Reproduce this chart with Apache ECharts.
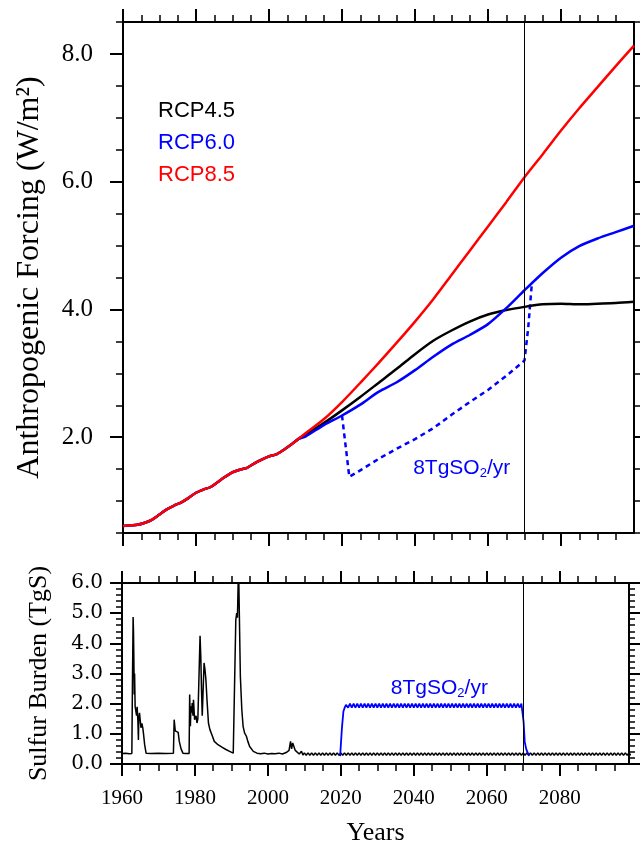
<!DOCTYPE html>
<html><head><meta charset="utf-8">
<script src="https://cdn.jsdelivr.net/npm/echarts@6/dist/echarts.min.js"></script>
<style>html,body{margin:0;padding:0;background:#fff}#c{width:640px;height:850px}</style>
</head><body><div id="c"></div>
<script>
// ---------- data ----------
const histYears   = [1960,1962,1964,1966,1968,1970,1972,1974,1976,1978,1980,1982,1984,1986,1988,1990,1992,1994,1996,1998,2000,2002,2004,2006,2008];
const histForcing = [0.61,0.62,0.63,0.66,0.71,0.79,0.87,0.93,0.98,1.05,1.13,1.18,1.22,1.30,1.38,1.45,1.49,1.52,1.59,1.65,1.70,1.73,1.80,1.88,1.97];
const futureYears = [2010,2015,2020,2025,2030,2035,2040,2045,2050,2055,2060,2065,2070,2075,2080,2085,2090,2095,2100];
const rcp45 = [2.04,2.22,2.42,2.63,2.85,3.07,3.30,3.51,3.67,3.81,3.92,3.99,4.04,4.08,4.09,4.08,4.09,4.10,4.12];
const rcp60 = [2.01,2.19,2.34,2.51,2.71,2.86,3.05,3.26,3.45,3.60,3.77,4.02,4.30,4.57,4.81,4.99,5.11,5.21,5.31];
const rcp85 = [2.06,2.28,2.55,2.85,3.16,3.48,3.81,4.16,4.54,4.92,5.30,5.68,6.07,6.43,6.80,7.15,7.48,7.81,8.13];
const geoYears   = [2020,2021,2022,2025,2030,2035,2040,2045,2050,2055,2060,2065,2070,2071,2072];
const geoForcing = [2.34,1.86,1.38,1.48,1.66,1.82,1.97,2.14,2.35,2.55,2.74,2.96,3.20,3.70,4.40];
const forcingTicks = [2,4,6,8];
const forcingMinorTicks = [0.5,1,1.5,2.5,3,3.5,4.5,5,5.5,6.5,7,7.5,8.5];
const yearTicks = [1960,1980,2000,2020,2040,2060,2080];
const yearMinorTicks = [1965,1970,1975,1985,1990,1995,2005,2010,2015,2025,2030,2035,2045,2050,2055,2065,2070,2075,2085,2090,2095];

// sulfur burden 1960-2010 (year, TgS)
const burdenEvents = [
 [1960.0,0.35],[1961.0,0.36],[1962.0,0.34],[1962.7,0.35],
 [1962.85,2.5],[1963.05,4.87],[1963.15,4.40],[1963.25,3.5],[1963.35,2.3],[1963.45,3.0],[1963.6,1.9],[1963.8,1.75],
 [1964.0,1.6],[1964.15,1.9],[1964.35,1.45],[1964.5,0.8],[1964.6,1.5],[1964.8,1.7],[1965.0,1.45],[1965.2,1.2],
 [1965.45,1.35],[1965.7,1.2],[1965.9,1.0],[1966.2,0.65],[1966.6,0.36],
 [1968.0,0.35],[1970.0,0.36],[1972.0,0.35],[1974.1,0.36],
 [1974.3,1.47],[1974.6,1.1],[1975.0,1.13],[1975.4,1.05],[1975.7,0.75],[1976.2,0.5],[1976.7,0.36],[1977.5,0.35],[1978.4,0.35],
 [1978.55,2.30],[1978.75,1.25],[1978.9,1.91],[1979.1,1.7],[1979.25,2.02],[1979.45,1.6],[1979.6,2.13],[1979.9,1.47],
 [1980.3,1.6],[1980.55,1.36],[1980.8,1.5],[1981.2,1.5],
 [1981.4,4.25],[1981.6,3.57],[1981.8,2.46],[1982.0,1.6],[1982.3,1.6],[1982.5,3.35],[1982.75,3.13],[1983.0,2.8],
 [1983.3,2.13],[1983.7,1.36],[1984.1,1.14],[1984.8,0.92],[1985.3,0.75],[1985.8,0.70],[1986.3,0.64],[1986.8,0.60],
 [1987.5,0.55],[1988.5,0.48],[1989.5,0.42],[1990.5,0.36],[1991.0,0.35],
 [1991.2,4.78],[1991.45,5.0],[1991.65,4.85],[1991.95,6.6],[1992.45,2.9],[1992.6,2.85],[1992.85,1.8],[1993.2,1.25],
 [1993.6,1.03],[1994.1,0.92],[1994.5,0.75],[1995.0,0.58],[1996.0,0.42],[1997.0,0.36],[1998.0,0.34],[1999.0,0.36],
 [2000.0,0.33],[2001.0,0.35],[2002.0,0.34],[2003.0,0.36],[2004.0,0.33],[2005.0,0.38],
 [2005.8,0.45],[2006.2,0.75],[2006.5,0.5],[2006.8,0.7],[2007.2,0.72],[2007.5,0.45],[2008.0,0.40],[2008.6,0.33],
 [2009.2,0.42],[2009.6,0.30]
];
// background burden 2010.0-2099.5, every half year
const burdenTailStart = 2010;
const burdenTail = [
 0.37,0.29,0.37,0.29,0.37,0.29,0.37,0.29,0.37,0.29,0.37,0.29,0.37,0.29,0.37,0.29,0.37,0.29,0.37,0.29,
 0.37,0.29,0.37,0.29,0.37,0.29,0.37,0.29,0.37,0.29,0.37,0.29,0.37,0.29,0.37,0.29,0.37,0.29,0.37,0.29,
 0.37,0.29,0.37,0.29,0.37,0.29,0.37,0.29,0.37,0.29,0.37,0.29,0.37,0.29,0.37,0.29,0.37,0.29,0.37,0.29,
 0.37,0.29,0.37,0.29,0.37,0.29,0.37,0.29,0.37,0.29,0.37,0.29,0.37,0.29,0.37,0.29,0.37,0.29,0.37,0.29,
 0.37,0.29,0.37,0.29,0.37,0.29,0.37,0.29,0.37,0.29,0.37,0.29,0.37,0.29,0.37,0.29,0.37,0.29,0.37,0.29,
 0.37,0.29,0.37,0.29,0.37,0.29,0.37,0.29,0.37,0.29,0.37,0.29,0.37,0.29,0.37,0.29,0.37,0.29,0.37,0.29,
 0.37,0.29,0.37,0.29,0.37,0.29,0.37,0.29,0.37,0.29,0.37,0.29,0.37,0.29,0.37,0.29,0.37,0.29,0.37,0.29,
 0.37,0.29,0.37,0.29,0.37,0.29,0.37,0.29,0.37,0.29,0.37,0.29,0.37,0.29,0.37,0.29,0.37,0.29,0.37,0.29,
 0.37,0.29,0.37,0.29,0.37,0.29,0.37,0.29,0.37,0.29,0.37,0.29,0.37,0.29,0.37,0.29,0.37,0.29,0.37,0.29
];
// geoengineering burden
const geoBurdenUp = [[2019.8,0.26],[2020.3,1.2],[2020.7,1.74],[2021.0,1.85],[2021.4,1.96]];
const geoPlateauStart = 2022;
const geoPlateau = [
 1.87,2.00,1.87,2.00,1.87,2.00,1.87,2.00,1.87,2.00,1.87,2.00,1.87,2.00,1.87,2.00,1.87,2.00,1.87,2.00,
 1.87,2.00,1.87,2.00,1.87,2.00,1.87,2.00,1.87,2.00,1.87,2.00,1.87,2.00,1.87,2.00,1.87,2.00,1.87,2.00,
 1.87,2.00,1.87,2.00,1.87,2.00,1.87,2.00,1.87,2.00,1.87,2.00,1.87,2.00,1.87,2.00,1.87,2.00,1.87,2.00,
 1.87,2.00,1.87,2.00,1.87,2.00,1.87,2.00,1.87,2.00,1.87,2.00,1.87,2.00,1.87,2.00,1.87,2.00,1.87,2.00,
 1.87,2.00,1.87,2.00,1.87,2.00,1.87,2.00,1.87,2.00,1.87,2.00,1.87,2.00,1.87,2.00
];
const geoBurdenDown = [[2069.8,1.95],[2070.1,1.4],[2070.4,0.75],[2070.8,0.5],[2071.6,0.27]];

// ---------- build ----------
const pairs = (xs, ys) => xs.map((x, i) => [x, ys[i]]);
const halfYearly = (start, vals) => vals.map((v, i) => [start + i * 0.5, v]);
const serif = "'Liberation Serif','Times New Roman',serif";
const sans = "'Liberation Sans',Arial,sans-serif";
const BLUE = '#0000ff', RED = '#ff0000', BLACK = '#000000';

const chart = echarts.init(document.getElementById('c'), null, {renderer: 'canvas'});

const line = () => ({show: true, onZero: false, lineStyle: {color: BLACK, width: 2}});
const noLine = () => ({show: false, onZero: false});
const tick = (len, w, values) => ({show: true, inside: false, length: len, customValues: values, lineStyle: {color: BLACK, width: w}});
// one axis per tick family: major (with line) or minor (ticks only)
function xAx(grid, pos, max, major, labels) {
  const ax = {
    gridIndex: grid, type: 'value', position: pos, min: 1960, max: max,
    axisLine: major ? line() : noLine(),
    axisTick: major ? tick(grid === 0 ? 13 : 12, 2, yearTicks) : tick(7, 1.5, yearMinorTicks),
    splitLine: {show: false},
    axisLabel: {show: false}
  };
  if (labels) ax.axisLabel = {show: true, customValues: yearTicks, formatter: v => String(v),
    fontFamily: serif, fontSize: 21, color: BLACK, margin: 24};
  return ax;
}
function topY(pos, major, labels) {
  const ax = {
    gridIndex: 0, type: 'value', position: pos, min: 0.5, max: 8.5,
    axisLine: major ? line() : noLine(),
    axisTick: major ? tick(13, 2, forcingTicks) : tick(7, 1.5, forcingMinorTicks),
    splitLine: {show: false},
    axisLabel: {show: false}
  };
  if (labels) {
    ax.axisLabel = {show: true, customValues: forcingTicks, formatter: v => Number(v).toFixed(1),
      fontFamily: serif, fontSize: 25, color: BLACK, margin: 30};
    ax.name = 'Anthropogenic Forcing (W/m²)';
    ax.nameLocation = 'middle';
    ax.nameGap = 77;
    ax.nameTextStyle = {fontFamily: serif, fontSize: 32, color: BLACK};
  }
  return ax;
}
function botY(pos, labels) {
  const ax = {
    gridIndex: 1, type: 'value', position: pos, min: 0, max: 6, interval: 1,
    axisLine: line(), axisTick: {show: true, inside: false, length: 12, lineStyle: {color: BLACK, width: 2}},
    minorTick: {show: true, splitNumber: 5, length: 6, lineStyle: {color: BLACK, width: 1.5}},
    splitLine: {show: false}, minorSplitLine: {show: false},
    axisLabel: {show: false}
  };
  if (labels) {
    ax.axisLabel = {show: true, formatter: v => Number(v).toFixed(1), fontFamily: "'DejaVu Serif',serif",
      fontSize: 20, color: BLACK, margin: 19};
    ax.name = 'Sulfur Burden (TgS)';
    ax.nameLocation = 'middle';
    ax.nameGap = 70;
    ax.nameTextStyle = {fontFamily: serif, fontSize: 26, color: BLACK};
  }
  return ax;
}
const vline = () => ({
  silent: true, symbol: ['none', 'none'], animation: false, label: {show: false},
  lineStyle: {color: BLACK, width: 1, type: 'solid'},
  data: [{xAxis: 2070}]
});
function topSeries(name, color, fut) {
  return {
    name: name, type: 'line', xAxisIndex: 0, yAxisIndex: 0, showSymbol: false,
    smooth: 0.25,
    lineStyle: {color: color, width: 2.5}, itemStyle: {color: color},
    data: pairs(histYears, histForcing).concat(pairs(futureYears, fut)),
    z: 3
  };
}

const xsX = xAx(1, 'bottom', 2099, true, true);
xsX.name = 'Years'; xsX.nameLocation = 'middle'; xsX.nameGap = 56;
xsX.nameTextStyle = {fontFamily: serif, fontSize: 26, color: BLACK};

const s45 = topSeries('RCP4.5', BLACK, rcp45);
s45.markLine = vline();

const option = {
  animation: false,
  backgroundColor: '#ffffff',
  grid: [
    {left: 123, top: 22, right: 6, height: 511},
    {left: 122, top: 583, right: 11, height: 181}
  ],
  legend: {
    orient: 'vertical', left: 146, top: 95, itemGap: 10, itemWidth: 2, itemHeight: 22,
    icon: 'rect', selectedMode: false,
    itemStyle: {opacity: 0}, lineStyle: {opacity: 0},
    textStyle: {fontFamily: sans, fontSize: 22},
    data: [
      {name: 'RCP4.5', textStyle: {color: BLACK}},
      {name: 'RCP6.0', textStyle: {color: BLUE}},
      {name: 'RCP8.5', textStyle: {color: RED}}
    ]
  },
  xAxis: [
    xAx(0, 'bottom', 2100, true, false), xAx(0, 'top', 2100, true, false),
    xsX, xAx(1, 'top', 2099, true, false),
    xAx(0, 'bottom', 2100, false, false), xAx(0, 'top', 2100, false, false),
    xAx(1, 'bottom', 2099, false, false), xAx(1, 'top', 2099, false, false)
  ],
  yAxis: [topY('left', true, true), topY('left', false, false), topY('right', true, false), topY('right', false, false),
          botY('left', true), botY('right', false)],
  series: [
    s45,
    topSeries('RCP6.0', BLUE, rcp60),
    topSeries('RCP8.5', RED, rcp85),
    {
      name: 'geo', type: 'line', xAxisIndex: 0, yAxisIndex: 0, showSymbol: false,
      lineStyle: {color: BLUE, width: 2.5, type: [5, 4]}, itemStyle: {color: BLUE},
      data: pairs(geoYears, geoForcing), z: 2
    },
    {
      name: 'burden', type: 'line', xAxisIndex: 2, yAxisIndex: 4, showSymbol: false,
      lineStyle: {color: BLACK, width: 1.5}, itemStyle: {color: BLACK},
      data: burdenEvents.concat(halfYearly(burdenTailStart, burdenTail)),
      markLine: vline()
    },
    {
      name: 'geoBurden', type: 'line', xAxisIndex: 2, yAxisIndex: 4, showSymbol: false,
      lineStyle: {color: BLUE, width: 1.8}, itemStyle: {color: BLUE},
      data: geoBurdenUp.concat(halfYearly(geoPlateauStart, geoPlateau), geoBurdenDown)
    }
  ]
};
chart.setOption(option);

// annotations, placed in data coordinates
const p1 = chart.convertToPixel({seriesIndex: 3}, [2052.8, 1.52]);
const p2 = chart.convertToPixel({seriesIndex: 5}, [2047, 2.51]);
const rich = {
  a: {fontFamily: sans, fontSize: 21, fill: BLUE, color: BLUE, lineHeight: 24},
  b: {fontFamily: sans, fontSize: 13, fill: BLUE, color: BLUE, lineHeight: 13, verticalAlign: 'bottom'}
};
const annot = p => ({
  type: 'text', x: p[0], y: p[1], z: 100,
  style: {text: '{a|8TgSO}{b|2}{a|/yr}', rich: rich, align: 'center', verticalAlign: 'middle',
          textAlign: 'center', textVerticalAlign: 'middle'}
});
chart.setOption({graphic: [annot(p1), annot(p2)]});
</script></body></html>
